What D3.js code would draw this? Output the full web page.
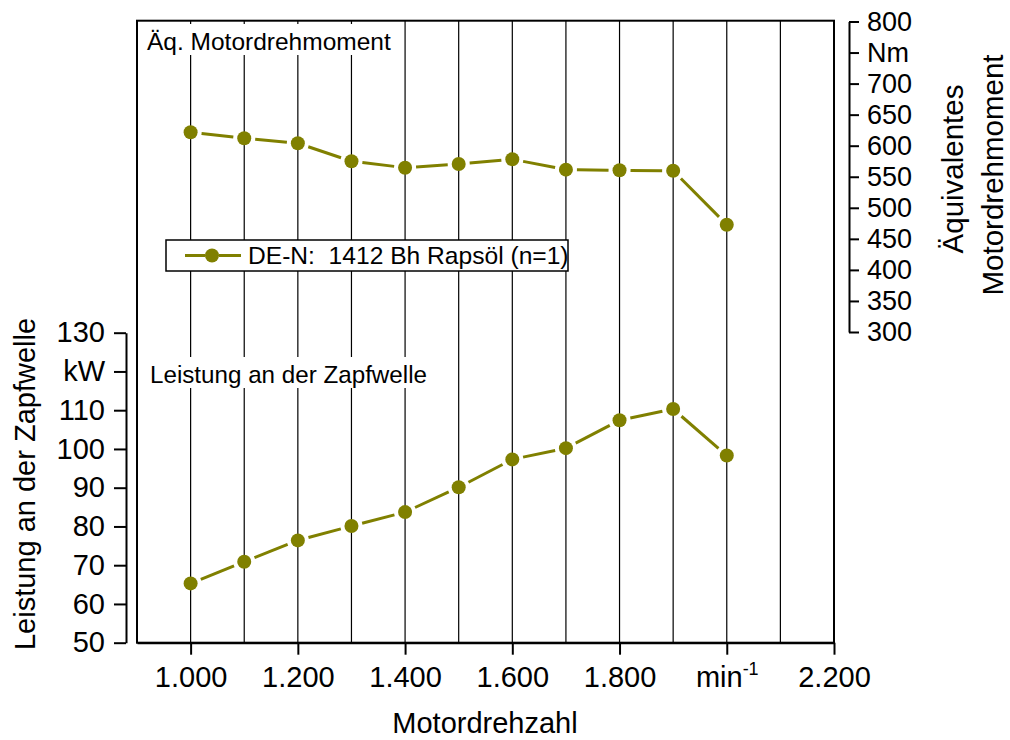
<!DOCTYPE html>
<html>
<head>
<meta charset="utf-8">
<script src="https://cdn.jsdelivr.net/npm/d3@7"></script>
<style>
  body { margin: 0; background: #fff; }
  svg text { font-family: Arial, "Liberation Sans", sans-serif; fill: #000; }
</style>
</head>
<body>
<div id="chart"></div>
<script>
// data
const speed = [1000, 1100, 1200, 1300, 1400, 1500, 1600, 1700, 1800, 1900, 2000];
const power = [65.3, 70.9, 76.4, 80.1, 83.7, 90.1, 97.3, 100.2, 107.4, 110.3, 98.3];
const torque = [621.6, 611.9, 603.9, 574.9, 564.6, 570.5, 578.1, 561.4, 560.4, 559.7, 472.8];
const xTicks = [1000, 1200, 1400, 1600, 1800, 2000, 2200];
const powerTicks = [50, 60, 70, 80, 90, 100, 110, 120, 130];
const torqueTicks = [300, 350, 400, 450, 500, 550, 600, 650, 700, 750, 800];
const gridValues = [1000, 1100, 1200, 1300, 1400, 1500, 1600, 1700, 1800, 1900, 2000, 2100];
const seriesName = 'DE-N:  1412 Bh Rapsöl (n=1)';
const olive = '#808000';

const width = 1010;
const height = 740;
const plotLeft = 137, plotRight = 834, plotTop = 20.7, plotBottom = 642.7;

const svg = d3.select('#chart').append('svg')
    .attr('width', width)
    .attr('height', height);

const x = d3.scaleLinear().domain([900, 2200]).range([plotLeft, plotRight]);
const yP = d3.scaleLinear().domain([50, 130]).range([plotBottom, 332.7]);
const yT = d3.scaleLinear().domain([300, 800]).range([332, 21.5]);

// vertical grid
svg.append('g').selectAll('line')
    .data(gridValues)
    .enter().append('line')
    .attr('x1', d => x(d)).attr('x2', d => x(d))
    .attr('y1', plotTop).attr('y2', plotBottom)
    .attr('stroke', '#000')
    .attr('stroke-width', 1.2);

// labels with white background
function boxedLabel(text, tx, ty, size) {
    const g = svg.append('g');
    const bg = g.append('rect').attr('fill', '#fff');
    const t = g.append('text')
        .attr('x', tx).attr('y', ty)
        .style('font-size', size + 'px')
        .text(text);
    const b = t.node().getBBox();
    bg.attr('x', b.x - 4).attr('y', b.y - 4)
        .attr('width', b.width + 8).attr('height', b.height + 4);
}
boxedLabel('Äq. Motordrehmoment', 147, 50, 24.5);
boxedLabel('Leistung an der Zapfwelle', 150, 383, 24.2);

// frame
svg.append('rect')
    .attr('x', plotLeft).attr('y', plotTop)
    .attr('width', plotRight - plotLeft).attr('height', plotBottom - plotTop)
    .attr('fill', 'none')
    .attr('stroke', '#000')
    .attr('stroke-width', 2);

// axes
const xAxis = svg.append('g')
    .attr('transform', `translate(0,${plotBottom})`)
    .call(d3.axisBottom(x).tickValues(xTicks).tickSize(12).tickSizeOuter(0)
        .tickFormat(d => d3.format(',')(d).replace(',', '.')));

const leftAxis = svg.append('g')
    .attr('transform', 'translate(126,0)')
    .call(d3.axisLeft(yP).tickValues(powerTicks).tickSize(12).tickSizeOuter(0)
        .tickFormat(d => d === 120 ? 'kW' : d));

const rightAxis = svg.append('g')
    .attr('transform', 'translate(849,0)')
    .call(d3.axisRight(yT).tickValues(torqueTicks).tickSize(10).tickSizeOuter(0)
        .tickFormat(d => d === 750 ? 'Nm' : d));

[xAxis, leftAxis, rightAxis].forEach(a => {
    a.selectAll('path, line').attr('stroke', '#000').attr('stroke-width', 2);
    a.selectAll('text').attr('font-family', null);
});
xAxis.selectAll('text').style('font-size', '29px').attr('dy', null).attr('y', 44);
leftAxis.selectAll('text').style('font-size', '29px').attr('x', -21);
rightAxis.selectAll('text').style('font-size', '27px').attr('x', 18);

// min^-1 instead of 2.000
xAxis.selectAll('.tick').filter(d => d === 2000).select('text')
    .text('min')
    .append('tspan')
    .attr('dy', -12)
    .style('font-size', '18px')
    .text('-1');

// axis titles
svg.append('text')
    .attr('transform', 'translate(485,733)')
    .attr('text-anchor', 'middle')
    .style('font-size', '29px')
    .text('Motordrehzahl');

svg.append('text')
    .attr('transform', 'translate(35,484) rotate(-90)')
    .attr('text-anchor', 'middle')
    .style('font-size', '29px')
    .text('Leistung an der Zapfwelle');

svg.append('text')
    .attr('transform', 'translate(963,169) rotate(-90)')
    .attr('text-anchor', 'middle')
    .style('font-size', '29.5px')
    .text('Äquivalentes');

svg.append('text')
    .attr('transform', 'translate(1003,175) rotate(-90)')
    .attr('text-anchor', 'middle')
    .style('font-size', '29.5px')
    .text('Motordrehmoment');

// series: segments stop short of markers
const gap = 11;
function drawSeries(values, yScale) {
    const pts = speed.map((s, i) => [x(s), yScale(values[i])]);
    const g = svg.append('g');
    g.selectAll('line')
        .data(d3.pairs(pts))
        .enter().append('line')
        .each(function ([a, b]) {
            const dx = b[0] - a[0], dy = b[1] - a[1];
            const len = Math.hypot(dx, dy);
            const ux = dx / len, uy = dy / len;
            d3.select(this)
                .attr('x1', a[0] + ux * gap).attr('y1', a[1] + uy * gap)
                .attr('x2', b[0] - ux * gap).attr('y2', b[1] - uy * gap);
        })
        .attr('stroke', olive)
        .attr('stroke-width', 3);
    g.selectAll('circle')
        .data(pts)
        .enter().append('circle')
        .attr('cx', d => d[0]).attr('cy', d => d[1])
        .attr('r', 7)
        .attr('fill', olive);
}
drawSeries(torque, yT);
drawSeries(power, yP);

// legend
const legend = svg.append('g');
legend.append('rect')
    .attr('x', 166).attr('y', 240)
    .attr('width', 402).attr('height', 31)
    .attr('fill', '#fff')
    .attr('stroke', '#000')
    .attr('stroke-width', 1.5);
legend.append('line')
    .attr('x1', 185).attr('x2', 205).attr('y1', 255.5).attr('y2', 255.5)
    .attr('stroke', olive).attr('stroke-width', 3);
legend.append('line')
    .attr('x1', 219).attr('x2', 241).attr('y1', 255.5).attr('y2', 255.5)
    .attr('stroke', olive).attr('stroke-width', 3);
legend.append('circle')
    .attr('cx', 212).attr('cy', 255.5).attr('r', 7).attr('fill', olive);
legend.append('text')
    .attr('x', 248).attr('y', 264)
    .style('font-size', '24.6px')
    .style('white-space', 'pre')
    .text(seriesName);
</script>
</body>
</html>
